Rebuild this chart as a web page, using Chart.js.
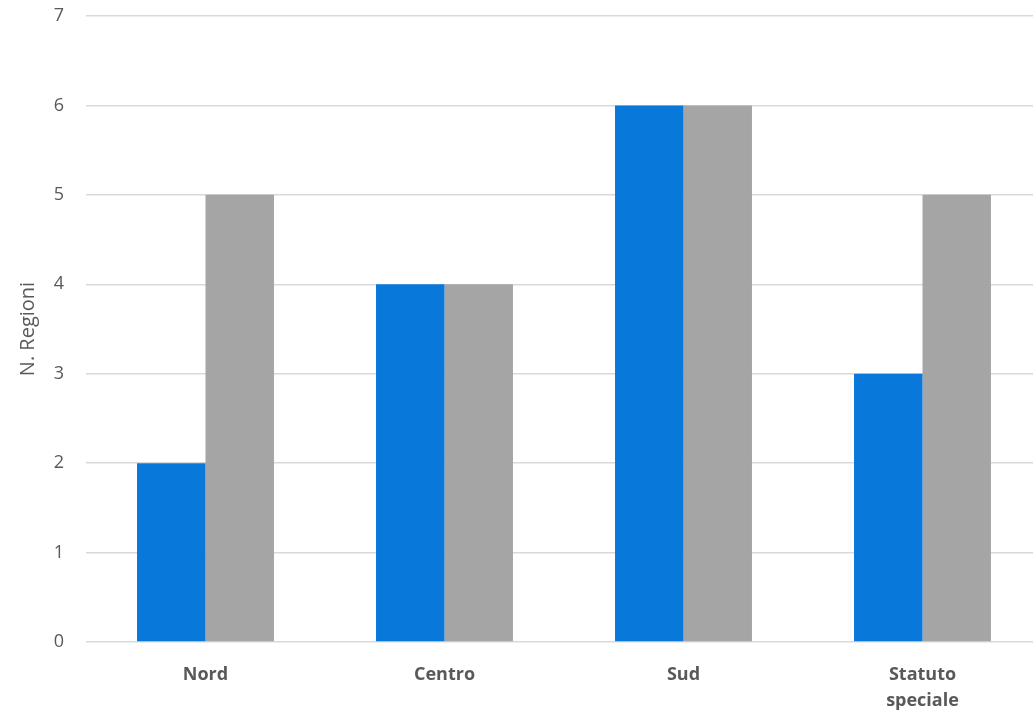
<!DOCTYPE html>
<html>
<head>
<meta charset="utf-8">
<script src="https://cdn.jsdelivr.net/npm/chart.js@4/dist/chart.umd.min.js"></script>
<style>
  html, body { margin: 0; padding: 0; background: #fff; overflow: hidden; }
  /* canvas a bit wider than the window: the plot area is cut on the right as in the original */
  #wrap { width: 1042px; height: 717px; }
</style>
</head>
<body>
<div id="wrap"><canvas id="regioniChart" width="1042" height="717"></canvas></div>
<script>
const categories = ['Nord', 'Centro', 'Sud', ['Statuto', 'speciale']];
const serieBlu = [2, 4, 6, 3];
const serieGrigia = [5, 4, 6, 5];
const yTicks = [0, 1, 2, 3, 4, 5, 6, 7];

const textColor = '#595959';
const gridColor = '#D9D9D9';

const ctx = document.getElementById('regioniChart').getContext('2d');

new Chart(ctx, {
    type: 'bar',
    data: {
        labels: categories,
        datasets: [{
            label: 'Serie 1',
            data: serieBlu,
            backgroundColor: '#0878DA',
            borderWidth: 0,
            barPercentage: 1,
            categoryPercentage: 0.573
        }, {
            label: 'Serie 2',
            data: serieGrigia,
            backgroundColor: '#A5A5A5',
            borderWidth: 0,
            barPercentage: 1,
            categoryPercentage: 0.573
        }]
    },
    options: {
        responsive: false,
        animation: false,
        layout: { padding: { top: 16, right: 0, left: 16, bottom: 0 } },
        plugins: {
            legend: { display: false },
            tooltip: { enabled: false }
        },
        scales: {
            x: {
                grid: { display: false },
                border: { display: false },
                ticks: {
                    color: textColor,
                    padding: 12,
                    maxRotation: 0,
                    font: { family: 'Open Sans', size: 18, weight: 'bold', lineHeight: 1.45 }
                },
                afterFit: scale => {
                    scale.height = 75;
                    scale.paddingLeft = 0;
                    scale.paddingRight = 0;
                }
            },
            y: {
                min: 0,
                max: yTicks[yTicks.length - 1],
                afterBuildTicks: scale => { scale.ticks = yTicks.map(v => ({ value: v })); },
                grid: { color: gridColor, lineWidth: 1.5, drawTicks: false },
                border: { display: false },
                ticks: {
                    color: textColor,
                    padding: 22,
                    font: { family: 'Open Sans', size: 18 }
                },
                title: {
                    display: true,
                    text: 'N. Regioni',
                    color: textColor,
                    font: { family: 'Open Sans', size: 20 },
                    padding: { top: 0, bottom: 0 }
                },
                afterFit: scale => {
                    scale.width = 70;
                    scale.paddingTop = 0;
                    scale.paddingBottom = 0;
                }
            }
        }
    }
});
</script>
</body>
</html>
